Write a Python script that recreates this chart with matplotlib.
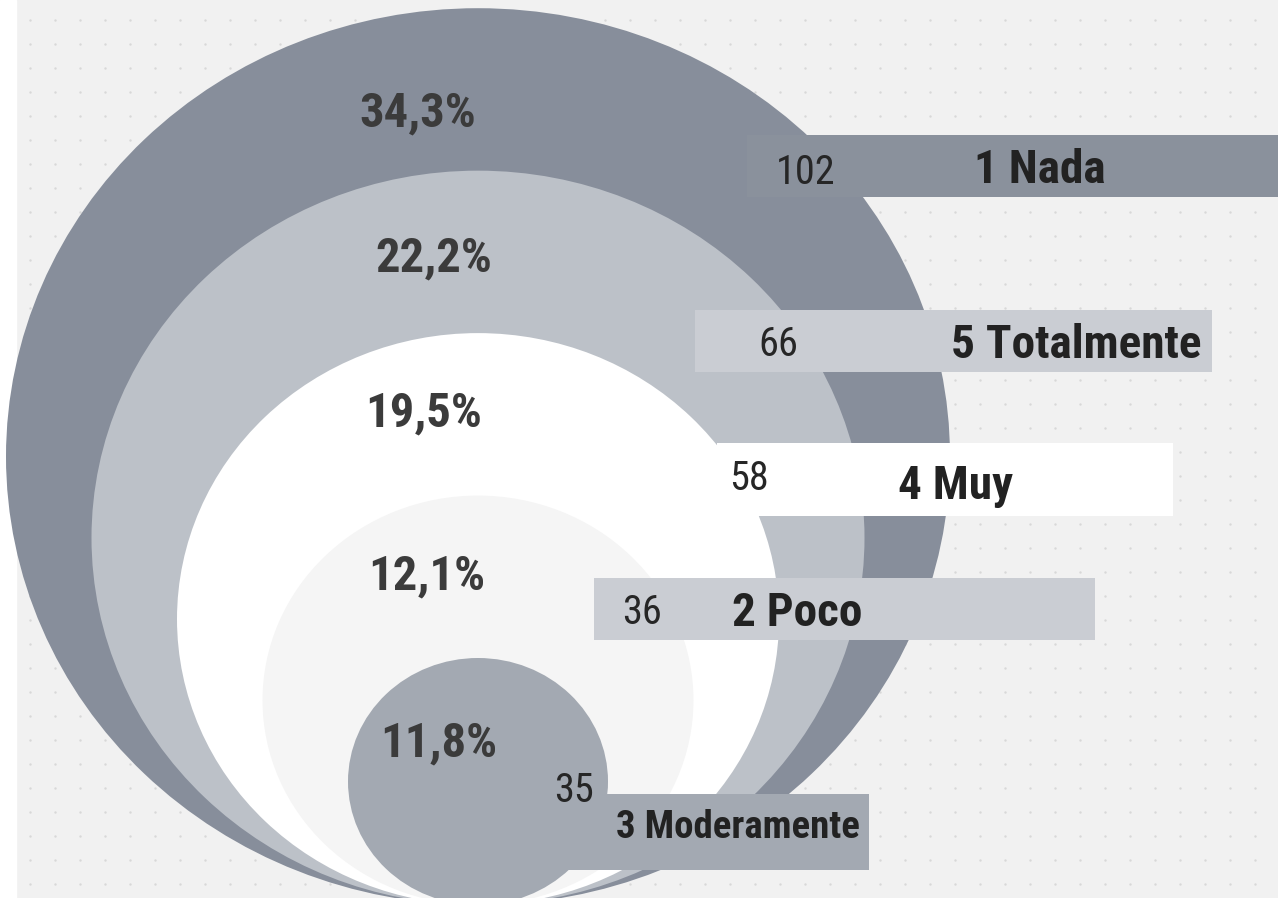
import matplotlib
matplotlib.use("Agg")
import matplotlib.pyplot as plt
import numpy as np
from matplotlib.patches import Ellipse, Rectangle

# data, biggest ring first
categories = ["1 Nada", "5 Totalmente", "4 Muy", "2 Poco", "3 Moderamente"]
counts = [102, 66, 58, 36, 35]
percents = [34.3, 22.2, 19.5, 12.1, 11.8]

# look
ring_colors = ["#878e9b", "#bcc1c8", "#ffffff", "#f5f5f5", "#a3a9b2"]
box_colors = ["#8a919c", "#cacdd3", "#ffffff", "#cacdd3", "#a3a9b2"]
bg_color = "#f1f1f1"
font = ["Roboto Condensed", "Roboto", "DejaVu Sans"]

# layout in pixel units (figure is 1278 x 898)
W, H = 1278, 898
cx, base_y = 478, 905          # all rings touch at the bottom
r_small, r_step = 130, 85.5    # ring half-width grows with rank
squash = 0.95                  # rings are a bit flatter than round
box_left = [747, 695, 717, 594, 562]
box_right = [1290, 1212, 1173, 1095, 869]
box_top = [135, 310, 443, 578, 794]
box_bottom = [197, 372, 516, 640, 870]
count_xy = [(806, 172), (778, 345), (749, 478), (642, 612), (574, 790)]
cat_xy = [(1040, 170), (1076, 345), (956, 486), (797, 613), (738, 828)]
pct_xy = [(418, 113), (434, 258), (424, 413), (427, 576), (439, 743)]

fig = plt.figure(figsize=(W / 100, H / 100), dpi=100)
fig.patch.set_facecolor(bg_color)
ax = fig.add_axes([0, 0, 1, 1])
ax.set_xlim(0, W)
ax.set_ylim(H, 0)
ax.axis("off")
ax.set_facecolor(bg_color)

# white strip on the left and faint dot grid
ax.add_patch(Rectangle((0, 0), 16, H, color="white", zorder=0))
gx, gy = np.meshgrid(np.arange(30, W, 25), np.arange(20, H, 24))
ax.scatter(gx.ravel(), gy.ravel(), s=3, color="#d8d8d8", linewidths=0, zorder=0.5)

# rings, ordered by count (largest drawn first)
order = np.argsort(counts)[::-1]
n = len(counts)
for rank, i in enumerate(order):
    a = r_small + r_step * (n - 1 - rank)
    b = a * squash
    ax.add_patch(Ellipse((cx, base_y - b), 2 * a, 2 * b,
                         color=ring_colors[i], lw=0, zorder=1 + rank))

# label boxes and texts
for i in range(n):
    ax.add_patch(Rectangle((box_left[i], box_top[i]),
                           box_right[i] - box_left[i], box_bottom[i] - box_top[i],
                           color=box_colors[i], lw=0, zorder=10))
    ax.text(*count_xy[i], str(counts[i]), family=font, fontsize=29,
            color="#262626", ha="center", va="center", zorder=11)
    size = 28 if len(categories[i]) > 12 else 34
    ax.text(*cat_xy[i], categories[i], family=font, fontsize=size,
            fontweight="bold", color="#222222", ha="center", va="center", zorder=11)
    ax.text(*pct_xy[i], f"{percents[i]:.1f}".replace(".", ",") + "%",
            family=font, fontsize=35, fontweight="bold", color="#3b3b3b",
            ha="center", va="center", zorder=11)

fig.savefig("out.png", dpi=100, facecolor=bg_color)
